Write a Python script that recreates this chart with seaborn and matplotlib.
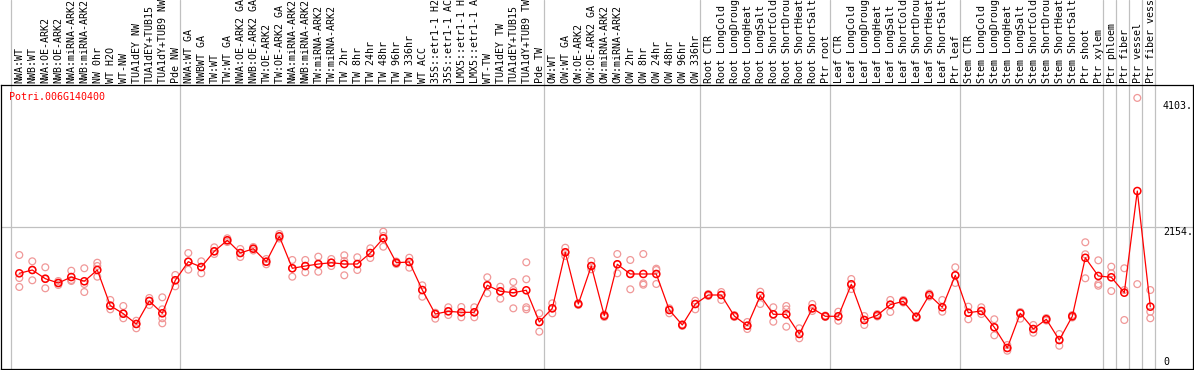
import numpy as np
import pandas as pd
import matplotlib
matplotlib.use("Agg")
import matplotlib.pyplot as plt
import seaborn as sns

gene_id = "Potri.006G140400"

categories = [
    "NWA:WT", "NWB:WT", "NWA:OE-ARK2", "NWB:OE-ARK2", "NWA:miRNA-ARK2", "NWB:miRNA-ARK2",
    "NW 0hr", "WT H2O", "WT-NW", "TUA1dEY NW", "TUA1dEY+TUB15", "TUA1dY+TUB9 NW", "Pde NW",
    "NWA:WT GA", "NWBWT GA", "TW:WT", "TW:WT GA", "NWA:OE-ARK2 GA", "NWB:OE-ARK2 GA",
    "TW:OE-ARK2", "TW:OE-ARK2 GA", "NWA:miRNA-ARK2", "NWB:miRNA-ARK2", "TW:miRNA-ARK2",
    "TW:miRNA-ARK2", "TW 2hr", "TW 8hr", "TW 24hr", "TW 48hr", "TW 96hr", "TW 336hr",
    "WT ACC", "35S::etr1-1 H2", "35S::etr1-1 AC", "LMX5::etr1-1 H", "LMX5::etr1-1 A",
    "WT-TW", "TUA1dEY TW", "TUA1dEY+TUB15", "TUA1dY+TUB9 TW", "Pde TW",
    "OW:WT", "OW:WT GA", "OW:OE-ARK2", "OW:OE-ARK2 GA", "OW:miRNA-ARK2", "OW:miRNA-ARK2",
    "OW 2hr", "OW 8hr", "OW 24hr", "OW 48hr", "OW 96hr", "OW 336hr",
    "Root CTR", "Root LongCold", "Root LongDroug", "Root LongHeat", "Root LongSalt",
    "Root ShortCold", "Root ShortDrou", "Root ShortHeat", "Root ShortSalt", "Ptr root",
    "Leaf CTR", "Leaf LongCold", "Leaf LongDroug", "Leaf LongHeat", "Leaf LongSalt",
    "Leaf ShortCold", "Leaf ShortDrou", "Leaf ShortHeat", "Leaf ShortSalt", "Ptr leaf",
    "Stem CTR", "Stem LongCold", "Stem LongDroug", "Stem LongHeat", "Stem LongSalt",
    "Stem ShortCold", "Stem ShortDrou", "Stem ShortHeat", "Stem ShortSalt", "Ptr shoot",
    "Ptr xylem", "Ptr phloem", "Ptr fiber", "Ptr vessel", "Ptr fiber vess",
]

group_starts = [0, 13, 41, 53, 63, 73, 84, 85, 86, 87, 88]

mean_values = [
    1458, 1508, 1377, 1312, 1402, 1338, 1508, 970, 849, 694, 1041, 855, 1353,
    1633, 1553, 1790, 1956, 1764, 1829, 1633, 2016, 1534, 1568, 1598, 1618, 1598, 1598,
    1764, 1986, 1618, 1629, 1206, 844, 885, 870, 870, 1277, 1187, 1166, 1202, 724,
    930, 1775, 995, 1568, 819, 1594, 1448, 1448, 1448, 905, 679, 995,
    1131, 1131, 814, 668, 1120, 840, 840, 543, 930, 810,
    810, 1292, 754, 825, 985, 1036, 799, 1131, 946, 1428,
    864, 890, 644, 332, 855, 618, 765, 452, 810, 1692, 1418,
    1398, 1166, 2699, 955,
]

replicates = [
    [1734, 1387, 1252], [1639, 1508, 1353], [1549, 1372, 1232], [1342, 1312, 1282],
    [1497, 1357, 1342], [1534, 1297, 1176], [1618, 1568, 1407], [1056, 970, 915],
    [965, 849, 780], [743, 694, 629], [1086, 1041, 980], [1096, 915, 780, 704],
    [1433, 1353, 1262],
    [1764, 1633, 1513], [1639, 1553, 1458], [1850, 1790, 1749], [1986, 1956, 1930],
    [1825, 1764, 1704], [1855, 1829, 1802], [1674, 1633, 1594], [2051, 2016, 1983],
    [1659, 1534, 1407], [1659, 1568, 1473], [1709, 1598, 1482], [1674, 1618, 1568],
    [1730, 1644, 1428], [1700, 1598, 1508], [1835, 1764, 1689], [2086, 2021, 1859],
    [1636, 1618, 1598], [1693, 1629, 1543], [1277, 1206, 1105], [864, 844, 774],
    [946, 885, 829], [950, 870, 795], [946, 870, 795], [1398, 1277, 1157],
    [1256, 1187, 1075], [1327, 1206, 930], [1624, 1368, 946, 915], [855, 724, 578],
    [1006, 930, 855], [1844, 1775, 1719], [1006, 995, 980], [1644, 1568, 1519],
    [837, 819, 799], [1749, 1594, 1458], [1659, 1448, 1217], [1749, 1307, 1286],
    [1528, 1508, 1297], [930, 905, 855], [689, 679, 664], [1045, 995, 915],
    [1146, 1131, 1116], [1176, 1131, 1056], [829, 814, 799], [724, 668, 618],
    [1181, 1120, 995], [946, 840, 728], [965, 915, 653], [629, 543, 478],
    [995, 930, 890], [822, 810, 799],
    [879, 810, 743], [1372, 1292, 1221], [814, 754, 679], [844, 825, 807],
    [1056, 985, 875], [1056, 1036, 1018], [814, 799, 784], [1154, 1131, 1108],
    [1056, 946, 879], [1549, 1428, 1312],
    [955, 864, 765], [946, 890, 844], [765, 644, 523], [377, 332, 291],
    [875, 855, 774], [679, 618, 562], [784, 765, 746], [543, 452, 366],
    [829, 810, 792], [1926, 1745, 1383], [1654, 1297, 1271],
    [1558, 1458, 1191], [1534, 1206, 754], [4103, 1295], [1206, 879, 780],
]

y_tick_values = [4103, 2154, 0]
y_tick_labels = ["4103.", "2154.", "0"]
reference_line = 2154

# ---------------------------------------------------------------------------
sns.set_style("white")
plt.rcParams["font.family"] = ["DejaVu Sans Mono", "DejaVu Sans"]

W, H = 1194, 370
fig = plt.figure(figsize=(W / 100, H / 100), dpi=100)
ax_left, ax_right, ax_top, ax_bottom = 1.3, 1193.3, 85.0, 369.0
ax = fig.add_axes([ax_left / W, (H - ax_bottom) / H,
                   (ax_right - ax_left) / W, (ax_bottom - ax_top) / H])

x_first, step = 19.3, 13.0
px_per_val = 1 / 15.08
ax.set_xlim((ax_left - x_first) / step, (ax_right - x_first) / step)
ax.set_ylim((H - ax_bottom) / px_per_val, (H - ax_top) / px_per_val)

pos = np.arange(len(categories))
rep_df = pd.DataFrame(
    [(i, v) for i, reps in enumerate(replicates) for v in reps],
    columns=["pos", "value"],
)
mean_df = pd.DataFrame({"pos": pos, "value": mean_values, "category": categories})

grey = "#C0C0C0"
light = "#F09898"
red = "#FF0000"

# separators
axes_h_px = ax_bottom - ax_top
for g in group_starts:
    ax.axvline(g - 0.62, ymin=0, ymax=ax_bottom / axes_h_px, color=grey,
               lw=0.9, clip_on=False, zorder=0)
ax.axhline(reference_line, color=grey, lw=0.9, zorder=0)

sns.scatterplot(data=rep_df, x="pos", y="value", ax=ax, marker="o", s=24,
                facecolor="none", edgecolor=light, linewidth=0.9, zorder=2,
                legend=False)
sns.lineplot(data=mean_df, x="pos", y="value", ax=ax, color=red, lw=0.9,
             zorder=3, legend=False)
sns.scatterplot(data=mean_df, x="pos", y="value", ax=ax, marker="o", s=26,
                facecolor="none", edgecolor=red, linewidth=1.1, zorder=4,
                legend=False)

ax.set_xticks([])
ax.set_yticks([])
ax.set_xlabel("")
ax.set_ylabel("")
for sp in ax.spines.values():
    sp.set_visible(True)
    sp.set_color("black")
    sp.set_linewidth(0.9)

# category labels
for i, lab in enumerate(categories):
    ax.annotate(lab, xy=(i, 1), xycoords=("data", "axes fraction"),
                xytext=(0.3, 1.5), textcoords="offset points", rotation=90,
                ha="center", va="bottom", fontsize=7.2, color="black",
                annotation_clip=False)

# value labels on the right
label_offsets = [-6.0, -3.5, 5.8]
for v, lab, off in zip(y_tick_values, y_tick_labels, label_offsets):
    ax.annotate(lab, xy=((1163 - ax_left) / (ax_right - ax_left), v),
                xycoords=("axes fraction", "data"), xytext=(0, off),
                textcoords="offset points", ha="left", va="center",
                fontsize=7.2, color="black", annotation_clip=False)

fig.text(9.3 / W, 1 - 97.3 / H, gene_id, color=red, ha="left", va="center",
         fontsize=7.2)

fig.savefig("out.png", dpi=100)
